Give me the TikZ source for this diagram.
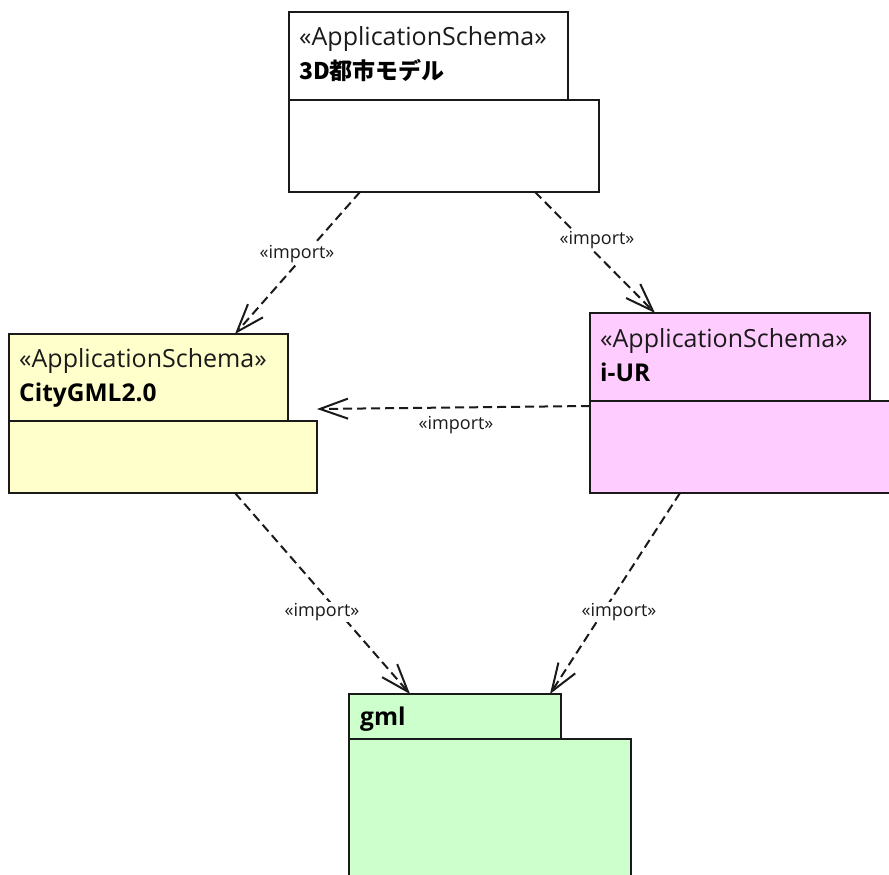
\documentclass[tikz,border=0pt]{standalone}
\usepackage{fontspec}
\setmainfont{Open Sans}
\newfontfamily\jpfont{Noto Sans CJK JP}
\usetikzlibrary{arrows.meta}
\definecolor{pkgyellow}{HTML}{FFFFCC}
\definecolor{pkgpink}{HTML}{FFCCFF}
\definecolor{pkggreen}{HTML}{CCFFCC}
\definecolor{ink}{HTML}{1A1A1A}
\begin{document}
\begin{tikzpicture}[x=1pt,y=-1pt,
  pkgbox/.style={draw=ink, line width=1.8pt},
  stereo/.style={anchor=base west, inner sep=0pt, text=ink, font=\fontsize{25}{29}\selectfont},
  pkgname/.style={anchor=base west, inner sep=0pt, text=black, font=\fontsize{24.5}{28}\selectfont\bfseries},
  implbl/.style={fill=white, inner sep=1pt, text=ink, font=\fontsize{18}{21}\selectfont},
  impline/.style={draw=ink, line width=2pt, dash pattern=on 9pt off 5pt,
    -{Straight Barb[length=28pt,width=20pt,line width=2pt]}}]
\useasboundingbox (0,0) rectangle (889,875);
\clip (0,0) rectangle (889,875);
% top package 3D
\path[pkgbox, fill=white] (289,100) rectangle (599,192);
\path[pkgbox, fill=white] (289,12) rectangle (568,100);
\node[stereo] (t1) at (299,46) {«ApplicationSchema»};
\node[pkgname] (t2) at (299,80) {\jpfont\bfseries\fontsize{23}{27}\selectfont 3D都市モデル};
% CityGML
\path[pkgbox, fill=pkgyellow] (9,421) rectangle (317,493);
\path[pkgbox, fill=pkgyellow] (9,334) rectangle (288,421);
\node[stereo] (c1) at (19,367) {«ApplicationSchema»};
\node[pkgname] (c2) at (19,401) {CityGML2.0};
% i-UR
\path[pkgbox, fill=pkgpink] (590,401) rectangle (895,493);
\path[pkgbox, fill=pkgpink] (590,313) rectangle (870,401);
\node[stereo] (u1) at (600,347) {«ApplicationSchema»};
\node[pkgname] (u2) at (600,381) {i-UR};
% gml
\path[pkgbox, fill=pkggreen] (349,739) rectangle (631,885);
\path[pkgbox, fill=pkggreen] (349,694) rectangle (561,739);
\node[pkgname] (g1) at (360,725) {gml};
% connector end points
\coordinate (tA) at (360,192);
\coordinate (tB) at (535,192);
\coordinate (cT) at (235,334);
\coordinate (cR) at (317,409);
\coordinate (cB) at (235,493);
\coordinate (uT) at (655,313);
\coordinate (uL) at (590,406);
\coordinate (uB) at (680,493);
\coordinate (gA) at (410,694);
\coordinate (gB) at (550,694);
\draw[impline] (tA) -- (cT);
\draw[impline] (tB) -- (uT);
\draw[impline] (uL) -- (cR);
\draw[impline] (cB) -- (gA);
\draw[impline] (uB) -- (gB);
\node[implbl] (l1) at (297,254) {«import»};
\node[implbl] (l2) at (597,240) {«import»};
\node[implbl] (l3) at (456,425) {«import»};
\node[implbl] (l4) at (322,612) {«import»};
\node[implbl] (l5) at (619,612) {«import»};
\end{tikzpicture}
\end{document}
